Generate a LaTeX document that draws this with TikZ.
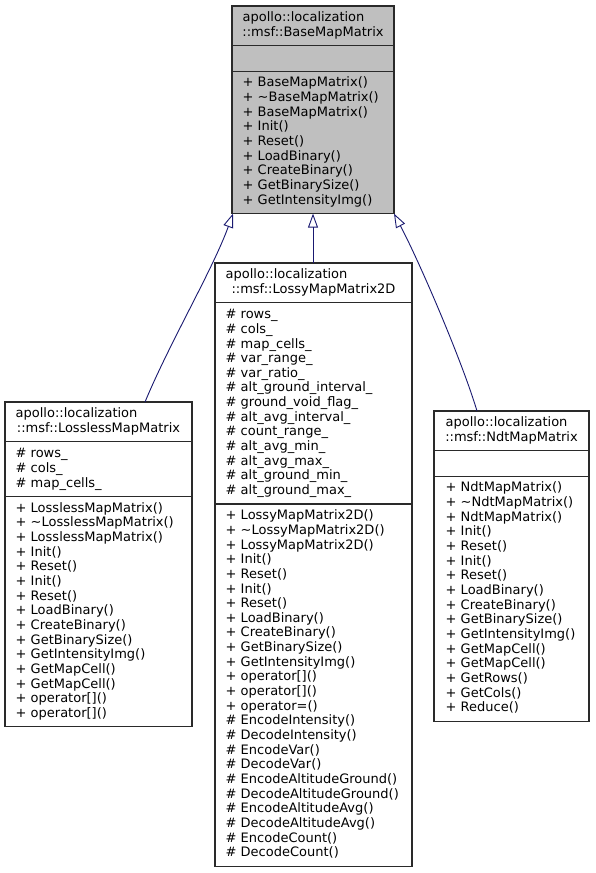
\documentclass[tikz,border=0pt]{standalone}
\usepackage{fontspec}
\setmainfont{DejaVu Sans}
\usetikzlibrary{arrows.meta}
\definecolor{edgeblue}{HTML}{191970}
\definecolor{basefill}{HTML}{BFBFBF}
\definecolor{boxline}{HTML}{2A2A2A}
\begin{document}
\begin{tikzpicture}[x=1pt,y=-1pt,
  classbox/.style={draw=boxline,line width=1.1pt,anchor=north west,inner sep=0pt,outer sep=0pt},
  divider/.style={draw=boxline,line width=1.1pt},
  txt/.style={font=\fontsize{13}{14.65}\selectfont,inner sep=0pt,anchor=base west},
  ttl/.style={font=\fontsize{13}{14.65}\selectfont,inner sep=0pt,anchor=base},
  inh/.style={draw=edgeblue,line width=0.9pt,-{Triangle[open,length=14pt,width=10pt]}}]
\useasboundingbox (0,0) rectangle (595,873);

% ---------- BaseMapMatrix ----------
\node[classbox,fill=basefill,minimum width=162pt,minimum height=207.6pt] (base) at (232,6) {};
\draw[divider] (232,45.9) -- (394,45.9);
\draw[divider] (232,71.15) -- (394,71.15);
\node[txt] (bt1) at (242.5,21.8) {apollo::localization};
\node[ttl] (bt2) at (313,36.45) {::msf::BaseMapMatrix};
\foreach \t [count=\i from 0] in {
  {+ BaseMapMatrix()},{+ \textasciitilde BaseMapMatrix()},{+ BaseMapMatrix()},
  {+ Init()},{+ Reset()},{+ LoadBinary()},{+ CreateBinary()},
  {+ GetBinarySize()},{+ GetIntensityImg()}}
  \node[txt,name=bm\i] at (242.5,{86.95+\i*14.65}) {\t};

% ---------- LosslessMapMatrix ----------
\node[classbox,fill=white,minimum width=187pt,minimum height=324.8pt] (lossless) at (5,402) {};
\draw[divider] (5,441.9) -- (192,441.9);
\draw[divider] (5,496.45) -- (192,496.45);
\node[txt] (lt1) at (15.5,417.8) {apollo::localization};
\node[ttl] (lt2) at (98.5,432.45) {::msf::LosslessMapMatrix};
\foreach \t [count=\i from 0] in {{\# rows\_},{\# cols\_},{\# map\_cells\_}}
  \node[txt,name=la\i] at (15.5,{457.7+\i*14.65}) {\t};
\foreach \t [count=\i from 0] in {
  {+ LosslessMapMatrix()},{+ \textasciitilde LosslessMapMatrix()},{+ LosslessMapMatrix()},
  {+ Init()},{+ Reset()},{+ Init()},{+ Reset()},{+ LoadBinary()},{+ CreateBinary()},
  {+ GetBinarySize()},{+ GetIntensityImg()},{+ GetMapCell()},{+ GetMapCell()},
  {+ operator[]()},{+ operator[]()}}
  \node[txt,name=lm\i] at (15.5,{512.25+\i*14.65}) {\t};

% ---------- LossyMapMatrix2D ----------
\node[classbox,fill=white,minimum width=197pt,minimum height=603.15pt] (lossy) at (215,263) {};
\draw[divider] (215,302.9) -- (412,302.9);
\draw[divider] (215,503.95) -- (412,503.95);
\node[txt] (yt1) at (225.5,278.8) {apollo::localization};
\node[ttl] (yt2) at (313.5,293.45) {::msf::LossyMapMatrix2D};
\foreach \t [count=\i from 0] in {
  {\# rows\_},{\# cols\_},{\# map\_cells\_},{\# var\_range\_},{\# var\_ratio\_},
  {\# alt\_ground\_interval\_},{\# ground\_void\_flag\_},{\# alt\_avg\_interval\_},
  {\# count\_range\_},{\# alt\_avg\_min\_},{\# alt\_avg\_max\_},{\# alt\_ground\_min\_},
  {\# alt\_ground\_max\_}}
  \node[txt,name=ya\i] at (225.5,{318.7+\i*14.65}) {\t};
\foreach \t [count=\i from 0] in {
  {+ LossyMapMatrix2D()},{+ \textasciitilde LossyMapMatrix2D()},{+ LossyMapMatrix2D()},
  {+ Init()},{+ Reset()},{+ Init()},{+ Reset()},{+ LoadBinary()},{+ CreateBinary()},
  {+ GetBinarySize()},{+ GetIntensityImg()},{+ operator[]()},{+ operator[]()},
  {+ operator=()},{\# EncodeIntensity()},{\# DecodeIntensity()},{\# EncodeVar()},
  {\# DecodeVar()},{\# EncodeAltitudeGround()},{\# DecodeAltitudeGround()},
  {\# EncodeAltitudeAvg()},{\# DecodeAltitudeAvg()},{\# EncodeCount()},{\# DecodeCount()}}
  \node[txt,name=ym\i] at (225.5,{519.75+\i*14.65}) {\t};

% ---------- NdtMapMatrix ----------
\node[classbox,fill=white,minimum width=155pt,minimum height=310.15pt] (ndt) at (434,411) {};
\draw[divider] (434,450.9) -- (589,450.9);
\draw[divider] (434,476.15) -- (589,476.15);
\node[txt] (nt1) at (445.5,426.8) {apollo::localization};
\node[ttl] (nt2) at (511.5,441.45) {::msf::NdtMapMatrix};
\foreach \t [count=\i from 0] in {
  {+ NdtMapMatrix()},{+ \textasciitilde NdtMapMatrix()},{+ NdtMapMatrix()},
  {+ Init()},{+ Reset()},{+ Init()},{+ Reset()},{+ LoadBinary()},{+ CreateBinary()},
  {+ GetBinarySize()},{+ GetIntensityImg()},{+ GetMapCell()},{+ GetMapCell()},
  {+ GetRows()},{+ GetCols()},{+ Reduce()}}
  \node[txt,name=nm\i] at (445.5,{491.95+\i*14.65}) {\t};

% ---------- inheritance ----------
\draw[inh] ([xshift=140pt]lossless.north west) .. controls (170,342) and (213,269) .. ([xshift=1pt]base.south west);
\draw[inh] (lossy.north -| base.south) -- (base.south);
\draw[inh] ([xshift=43pt]ndt.north west) .. controls (462,361) and (420,263) .. (base.south east);
\end{tikzpicture}
\end{document}
